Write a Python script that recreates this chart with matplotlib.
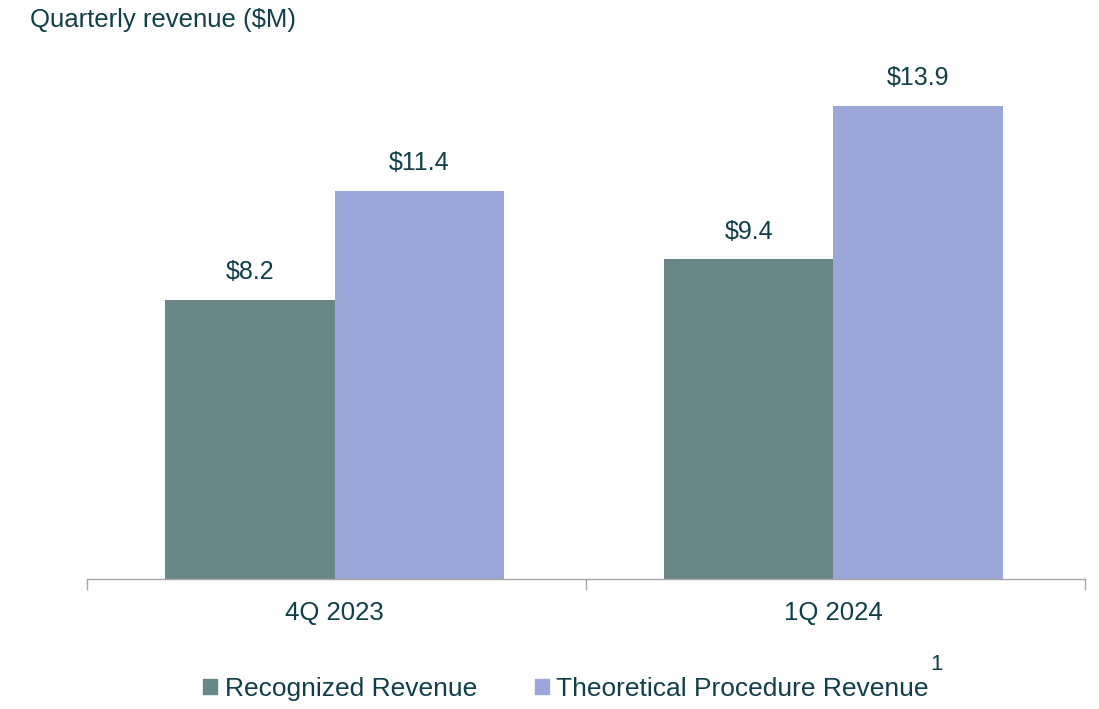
import matplotlib
matplotlib.use("Agg")
import matplotlib.pyplot as plt
from matplotlib.patches import Patch
import numpy as np

quarters = ["4Q 2023", "1Q 2024"]
recognized = [8.2, 9.4]
theoretical = [11.4, 13.9]
series_names = ["Recognized Revenue", "Theoretical Procedure Revenue"]

C_REC = "#678789"
C_THEO = "#9ba7d9"
C_TEXT = "#0f3f4a"

plt.rcParams['font.family'] = ['Liberation Sans', 'DejaVu Sans']

fig = plt.figure(figsize=(10.99, 7.09), dpi=100)
ax = fig.add_axes([0.0792, 0.1834, 0.908, 0.732])

x = np.arange(len(quarters)) - 0.004
w = 0.34
b1 = ax.bar(x - w / 2, recognized, w, color=C_REC)
b2 = ax.bar(x + w / 2, theoretical, w, color=C_THEO)

for bars, vals in ((b1, recognized), (b2, theoretical)):
    for r, v in zip(bars, vals):
        ax.annotate(f"${v:.1f}", (r.get_x() + r.get_width() / 2, v),
                    xytext=(0, 11), textcoords="offset points",
                    ha="center", va="bottom", fontsize=18, color=C_TEXT)

ax.set_xlim(-0.5, 1.5)
ax.set_ylim(0, 15.24)
ax.set_xticks([-0.5, 0.5, 1.5], minor=False)
ax.set_xticklabels([])
ax.set_xticks(x, minor=True)
ax.set_xticklabels(quarters, minor=True, fontsize=18.5, color=C_TEXT)
ax.tick_params(axis='x', which='major', length=8, color='#a6a6a6', width=1)
ax.tick_params(axis='x', which='minor', length=0, pad=16)
ax.set_yticks([])
for s in ("top", "right", "left"):
    ax.spines[s].set_visible(False)
ax.spines["bottom"].set_color("#a6a6a6")
ax.spines["bottom"].set_linewidth(1)

fig.text(30 / 1099, 1 - 20 / 709, "Quarterly revenue ($M)", fontsize=18.5,
         color=C_TEXT, ha="left", va="center")

handles = [Patch(color=C_REC), Patch(color=C_THEO)]
fig.legend(handles, series_names, loc="center", bbox_to_anchor=(0.515, 1 - 689 / 709),
           ncol=2, frameon=False, fontsize=19, handlelength=0.52, handleheight=0.52,
           handletextpad=0.28, columnspacing=2.2, labelcolor=C_TEXT)
fig.text(936 / 1099, 1 - 664 / 709, "1", fontsize=16, color=C_TEXT,
         ha="center", va="center")

fig.savefig("out.png", dpi=100)
